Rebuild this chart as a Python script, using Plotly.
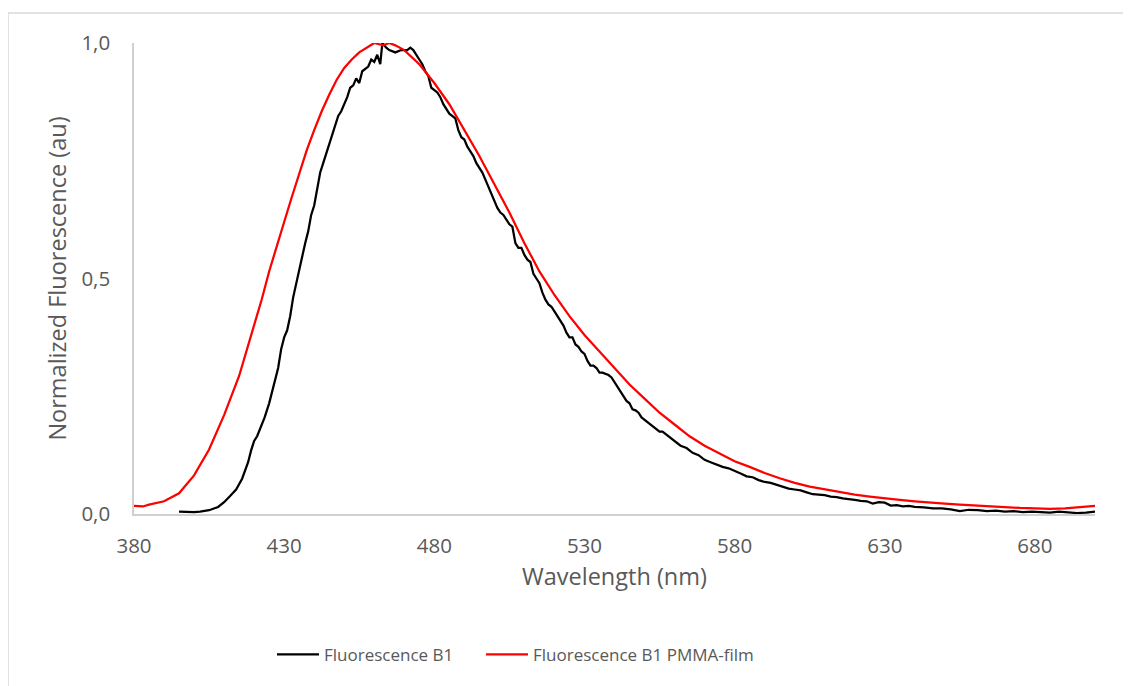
import plotly.graph_objects as go

# Fluorescence B1 PMMA-film (red)
pmma_nm = [380, 383, 385, 390, 395, 400, 405, 410, 415, 420, 422.5, 425, 427.5, 430, 432.5, 435,
           437.5, 440, 442.5, 445, 447.5, 450, 452.5, 455, 458, 460, 463, 465, 467, 470, 475,
           480, 485, 490, 495, 500, 505, 510, 515, 520, 525, 530, 535, 540, 545, 550, 555, 560,
           565, 570, 575, 580, 585, 590, 595, 600, 605, 610, 615, 620, 625, 630, 635, 640, 645,
           650, 655, 660, 665, 670, 675, 680, 685, 690, 695, 700]
pmma_val = [0.017, 0.016, 0.020, 0.027, 0.044, 0.082, 0.137, 0.210, 0.293, 0.400, 0.455, 0.515,
            0.570, 0.620, 0.672, 0.722, 0.772, 0.815, 0.855, 0.890, 0.922, 0.947, 0.965, 0.980,
            0.992, 1.000, 0.995, 1.000, 0.995, 0.985, 0.955, 0.915, 0.870, 0.815, 0.760, 0.700,
            0.640, 0.575, 0.515, 0.465, 0.420, 0.380, 0.345, 0.310, 0.275, 0.245, 0.215, 0.190,
            0.165, 0.145, 0.128, 0.112, 0.100, 0.087, 0.076, 0.066, 0.058, 0.052, 0.046, 0.041,
            0.037, 0.033, 0.030, 0.027, 0.024, 0.022, 0.020, 0.018, 0.016, 0.014, 0.013, 0.012,
            0.011, 0.012, 0.014, 0.017]

# Fluorescence B1 (black)
b1_nm = [395, 397, 400, 402, 405, 408, 410, 412, 414, 416, 418, 419, 420, 421, 422, 423.5, 425,
         426.5, 428, 429, 430, 431, 432, 433, 434, 435, 436, 437, 438, 439, 440, 441, 442, 443,
         444, 445, 446, 447, 448, 449, 450, 451, 452, 453, 454, 455, 456, 457, 458, 459, 460,
         461, 462, 462.7, 464, 465, 467, 469, 471, 472, 473, 475, 476, 477, 478, 479, 480, 481,
         482, 483, 485, 486, 487, 488, 489, 490, 491, 492, 493, 494, 495, 496, 497, 498, 499,
         500, 501, 502, 503, 504, 505, 506, 507, 508, 509, 510, 511, 512, 513, 514, 515, 516,
         517, 518, 519, 520, 521, 522, 523, 524, 525, 526, 527, 528, 529, 530, 531, 532, 533,
         534, 535, 536, 537, 538, 539, 540, 541, 542, 543, 544, 545, 546, 547, 548, 549, 550,
         552, 554, 555, 556, 558, 560, 562, 564, 566, 568, 570, 572, 574, 576, 578, 580, 582,
         584, 586, 588, 590, 592, 594, 596, 598, 600, 602, 604, 606, 608, 610, 612, 614, 616,
         618, 620, 622, 624, 626, 628, 630, 632, 634, 636, 638, 640, 643, 646, 649, 652, 655,
         658, 661, 664, 667, 670, 673, 676, 679, 682, 685, 688, 691, 694, 697, 700]
b1_val = [0.005, 0.004, 0.004, 0.005, 0.008, 0.015, 0.025, 0.038, 0.052, 0.075, 0.110, 0.135,
          0.155, 0.165, 0.180, 0.205, 0.235, 0.275, 0.310, 0.350, 0.375, 0.390, 0.420, 0.460,
          0.490, 0.520, 0.550, 0.575, 0.600, 0.635, 0.655, 0.690, 0.725, 0.745, 0.765, 0.790,
          0.810, 0.830, 0.845, 0.855, 0.870, 0.885, 0.905, 0.910, 0.925, 0.915, 0.940, 0.945,
          0.950, 0.965, 0.960, 0.975, 0.955, 1.000, 0.990, 0.985, 0.980, 0.985, 0.985, 0.990,
          0.985, 0.965, 0.955, 0.940, 0.930, 0.905, 0.900, 0.895, 0.885, 0.870, 0.850, 0.845,
          0.840, 0.815, 0.800, 0.795, 0.780, 0.770, 0.760, 0.745, 0.735, 0.725, 0.710, 0.695,
          0.680, 0.665, 0.650, 0.640, 0.635, 0.625, 0.615, 0.610, 0.575, 0.565, 0.565, 0.550,
          0.540, 0.535, 0.510, 0.500, 0.490, 0.470, 0.455, 0.445, 0.440, 0.430, 0.420, 0.410,
          0.400, 0.385, 0.375, 0.375, 0.360, 0.355, 0.345, 0.340, 0.325, 0.315, 0.315, 0.310,
          0.300, 0.300, 0.298, 0.295, 0.290, 0.280, 0.268, 0.258, 0.248, 0.240, 0.235, 0.222,
          0.220, 0.215, 0.205, 0.200, 0.190, 0.180, 0.175, 0.175, 0.165, 0.155, 0.145, 0.140,
          0.130, 0.125, 0.115, 0.110, 0.105, 0.100, 0.097, 0.092, 0.086, 0.080, 0.078, 0.072,
          0.068, 0.066, 0.062, 0.058, 0.054, 0.052, 0.050, 0.046, 0.042, 0.041, 0.040, 0.037,
          0.036, 0.033, 0.032, 0.030, 0.028, 0.027, 0.022, 0.025, 0.024, 0.018, 0.019, 0.016,
          0.017, 0.015, 0.014, 0.012, 0.012, 0.010, 0.006, 0.009, 0.008, 0.006, 0.007, 0.005,
          0.006, 0.004, 0.005, 0.004, 0.003, 0.005, 0.004, 0.002, 0.003, 0.005]

x_ticks = [380, 430, 480, 530, 580, 630, 680]
y_ticks = [0.0, 0.5, 1.0]

FONT = "Open Sans"
GREY = "#595959"

# plot area in page pixels (page has an 8px body offset)
L, T, W, H = 126, 35, 961, 471

fig = go.Figure()
fig.add_trace(go.Scatter(x=b1_nm, y=b1_val, mode="lines", name="Fluorescence B1",
                         line=dict(color="#000000", width=2.25), legend="legend"))
fig.add_trace(go.Scatter(x=pmma_nm, y=pmma_val, mode="lines", name="Fluorescence B1 PMMA-film",
                         line=dict(color="#ff0000", width=2.25), legend="legend2"))

legend_common = dict(orientation="h", xanchor="left", y=-0.299, yanchor="middle",
                     font=dict(family=FONT, size=17, color=GREY), itemwidth=42,
                     bgcolor="rgba(0,0,0,0)")

fig.update_layout(
    width=1131, height=686,
    margin=dict(l=L, r=1131 - L - W, t=T, b=686 - T - H),
    paper_bgcolor="white", plot_bgcolor="white",
    separators=", ",
    font=dict(family=FONT, color=GREY, size=18),
    showlegend=True,
    legend=dict(x=(272 - 134) / W, **legend_common),
    legend2=dict(x=(481 - 134) / W, **legend_common),
    xaxis=dict(range=[380, 700], tickvals=x_ticks, ticktext=[str(v) for v in x_ticks],
               showgrid=False, zeroline=False, showline=True, linecolor="#d0d0d0", linewidth=1.5,
               ticks="", ticklabelstandoff=13,
               tickfont=dict(family=FONT, size=20.5, color=GREY),
               title=dict(text="Wavelength (nm)", font=dict(family=FONT, size=23.5, color=GREY),
                          standoff=10)),
    yaxis=dict(range=[0, 1], tickvals=y_ticks, tickformat=".1f",
               showgrid=False, zeroline=False, showline=True, linecolor="#d0d0d0", linewidth=1.5,
               ticks="", ticklabelstandoff=18,
               tickfont=dict(family=FONT, size=20.5, color=GREY),
               title=dict(text="Normalized Fluorescence (au)",
                          font=dict(family=FONT, size=23.5, color=GREY), standoff=8)),
    shapes=[dict(type="rect", xref="paper", yref="paper",
                 x0=-126 / W, x1=1 + 45 / W, y0=-180 / H, y1=1 + 30 / H,
                 line=dict(color="#d9d9d9", width=1.5), fillcolor="rgba(0,0,0,0)", layer="below")],
)

fig.write_html("out.html")
